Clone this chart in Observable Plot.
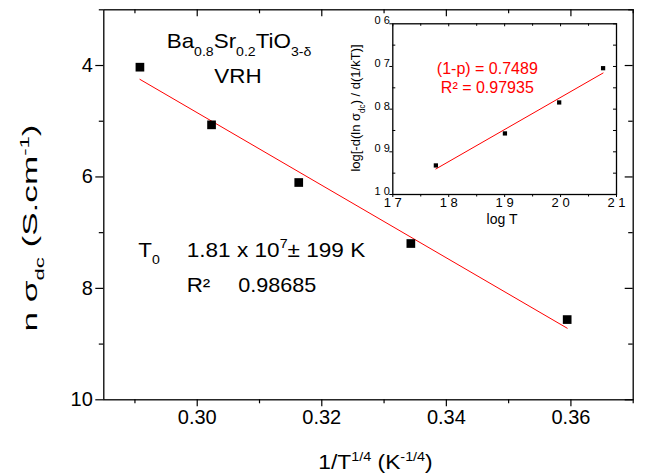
<!DOCTYPE html>
<html><head><meta charset="utf-8">
<script src="https://cdn.jsdelivr.net/npm/d3@7"></script>
<script src="https://cdn.jsdelivr.net/npm/@observablehq/plot@0.6"></script>
<style>
body{margin:0;background:white;}
#wrap{position:relative;width:648px;height:476px;}
#wrap svg{position:absolute;left:0;top:0;}
</style></head><body><div id="wrap"></div>
<script>
// Main panel data: 1/T^(1/4) vs ln sigma_dc
const invT = [0.2908, 0.3023, 0.3163, 0.3343, 0.3594];
const lnSigma = [4.03, 5.065, 6.10, 7.195, 8.56];
// Inset data: log T vs log[-d(ln sigma)/d(1/kT)]
const logT = [1.777, 1.9005, 1.9975, 2.076];
const logDeriv = [0.9319, 0.8569, 0.7843, 0.704];
// Ticks
const xMajor = [0.30, 0.32, 0.34, 0.36];
const xMinor = [0.29, 0.31, 0.33, 0.35, 0.37];
const yMajor = [4, 6, 8, 10];
const yMinor = [3, 5, 7, 9];
const inXMajor = [1.7, 1.8, 1.9, 2.0, 2.1];
const inXMinor = [1.75, 1.85, 1.95, 2.05];
const inYMajor = [0.6, 0.7, 0.8, 0.9, 1.0];
const inYMinor = [0.65, 0.75, 0.85, 0.95];

const FONT = "Arial, 'Liberation Sans', sans-serif";
const W = 648, H = 476;
const mainData = invT.map((x, i) => ({x, y: lnSigma[i]}));
const insetData = logT.map((x, i) => ({x, y: logDeriv[i]}));

function ticks(pw, ph, spec) {
  const out = [];
  const st = {stroke: "black", strokeWidth: spec.sw || 1.2};
  for (const [side, vals, len, inward] of spec.list) {
    if (side === "bottom") out.push(Plot.tickX(vals, {x: d => d, ...st,
      insetTop: inward ? ph - len : ph, insetBottom: inward ? 0 : -len}));
    if (side === "top") out.push(Plot.tickX(vals, {x: d => d, ...st,
      insetTop: inward ? 0 : -len, insetBottom: inward ? ph - len : ph}));
    if (side === "left") out.push(Plot.tickY(vals, {y: d => d, ...st,
      insetLeft: inward ? 0 : -len, insetRight: inward ? pw - len : pw}));
    if (side === "right") out.push(Plot.tickY(vals, {y: d => d, ...st,
      insetLeft: inward ? pw - len : pw, insetRight: inward ? 0 : -len}));
  }
  return out;
}

// ---------- main plot ----------
const M = {l: 103.3, r: 15.3, t: 9.3, b: 76.7};
const pw = W - M.l - M.r, ph = H - M.t - M.b;
const main = Plot.plot({
  width: W, height: H,
  marginLeft: M.l, marginRight: M.r, marginTop: M.t, marginBottom: M.b,
  x: {domain: [0.285, 0.37], axis: null},
  y: {domain: [3, 10], reverse: true, axis: null},
  style: {fontFamily: FONT, background: "white", color: "black", overflow: "visible"},
  marks: [
    ...ticks(pw, ph, {list: [
      ["bottom", xMajor, 7, false], ["bottom", xMinor, 4, false],
      ["top", xMajor, 7, true], ["top", xMinor, 4, true],
      ["left", yMajor, 8, false], ["left", yMinor, 4.5, false],
      ["right", yMajor, 8, true], ["right", yMinor, 4.5, true]
    ]}),
    Plot.frame({stroke: "black", strokeWidth: 1.3}),
    Plot.text(xMajor, {x: d => d, frameAnchor: "bottom", dy: 24, text: d => d.toFixed(2), fontSize: 20, fill: "black"}),
    Plot.text(yMajor, {y: d => d, frameAnchor: "left", dx: -11, textAnchor: "end", text: d => String(d), fontSize: 20, fill: "black"}),
    Plot.linearRegressionY(mainData, {x: "x", y: "y", stroke: "red", strokeWidth: 1, ci: 0}),
    Plot.dot(mainData, {x: "x", y: "y", symbol: "square", r: 4.9, fill: "black", stroke: "none"})
  ]
});

// ---------- inset ----------
const IM = {l: 392.3, r: 32, t: 23.3, b: 282};
const ipw = W - IM.l - IM.r, iph = H - IM.t - IM.b;
const inset = Plot.plot({
  width: W, height: H,
  marginLeft: IM.l, marginRight: IM.r, marginTop: IM.t, marginBottom: IM.b,
  x: {domain: [1.7, 2.1], axis: null},
  y: {domain: [0.6, 1.0], reverse: true, axis: null},
  style: {fontFamily: FONT, background: "transparent", color: "black", overflow: "visible"},
  marks: [
    ...ticks(ipw, iph, {sw: 1, list: [
      ["bottom", inXMajor, 3, false], ["bottom", inXMinor, 2.5, false],
      ["top", inXMajor, 3, true], ["top", inXMinor, 2.5, true],
      ["left", inYMajor, 3, false], ["left", inYMinor, 3, true],
      ["right", inYMajor, 3, true], ["right", inYMinor, 3, true]
    ]}),
    Plot.frame({stroke: "black", strokeWidth: 1.3}),
    Plot.text(inXMajor, {x: d => d, frameAnchor: "bottom", dy: 12.5, text: d => d.toFixed(1).replace(".", " "), fontSize: 13, fill: "black"}),
    Plot.text(inYMajor, {y: d => d, frameAnchor: "left", dx: -3, dy: -3, textAnchor: "end", text: d => d.toFixed(1).replace(".", " "), fontSize: 11, fill: "black"}),
    Plot.linearRegressionY(insetData, {x: "x", y: "y", stroke: "red", strokeWidth: 1, ci: 0}),
    Plot.dot(insetData, {x: "x", y: "y", symbol: "square", r: 2.4, fill: "black", stroke: "none"})
  ]
});

const wrap = document.getElementById("wrap");
wrap.appendChild(main);
wrap.appendChild(inset);

function rich(svg, {x, y, size, anchor = "start", rotate = 0, sx = 1, fill = "black", parts}) {
  const t = d3.select(svg).append("text")
    .attr("transform", `translate(${x},${y})` + (rotate ? ` rotate(${rotate})` : "") + (sx !== 1 ? ` scale(${sx},1)` : ""))
    .attr("text-anchor", anchor).attr("font-size", size).attr("fill", fill)
    .attr("font-family", FONT).attr("xml:space", "preserve");
  let cur = 0;
  for (const [s, k] of parts) {
    const off = k === "sub" ? size * 0.36 : k === "sup" ? -size * 0.42 : 0;
    const ts = t.append("tspan").attr("dy", off - cur).text(s);
    if (k) ts.attr("font-size", size * 0.63);
    cur = off;
  }
  return t;
}

// main texts
rich(main, {x: 239, y: 48.3, size: 20, sx: 1.12, anchor: "middle",
  parts: [["Ba"], ["0.8", "sub"], ["Sr"], ["0.2", "sub"], ["TiO"], ["3-δ", "sub"]]});
rich(main, {x: 238, y: 83, size: 20, sx: 1.12, anchor: "middle", parts: [["VRH"]]});
rich(main, {x: 138.3, y: 256.7, size: 20, sx: 1.12, parts: [["T"], ["0", "sub"]]});
rich(main, {x: 186.7, y: 256.7, size: 20, sx: 1.13, parts: [["1.81 x 10"], ["7", "sup"], ["± 199 K"]]});
rich(main, {x: 186.7, y: 291.7, size: 20, sx: 1.12, parts: [["R²"]]});
rich(main, {x: 238.3, y: 291.7, size: 20, sx: 1.08, parts: [["0.98685"]]});
rich(main, {x: 375.5, y: 469, size: 20, sx: 1.14, anchor: "middle",
  parts: [["1/T"], ["1/4", "sup"], [" (K"], ["-1/4", "sup"], [")"]]});
rich(main, {x: 37, y: 228, size: 19.5, sx: 1.8, anchor: "middle", rotate: -90,
  parts: [["n σ"], ["dc", "sub"], [" (S.cm"], ["-1", "sup"], [")"]]});

// inset texts
rich(inset, {x: 487.3, y: 74, size: 16, anchor: "middle", fill: "red", parts: [["(1-p) = 0.7489"]]});
rich(inset, {x: 487.3, y: 93.3, size: 16, anchor: "middle", fill: "red", parts: [["R² = 0.97935"]]});
rich(inset, {x: 502, y: 224, size: 14, anchor: "middle", parts: [["log T"]]});
rich(inset, {x: 360, y: 108, size: 13, anchor: "middle", rotate: -90,
  parts: [["log[-d(ln σ"], ["dc", "sub"], [") / d(1/kT)]"]]});
</script></body></html>
